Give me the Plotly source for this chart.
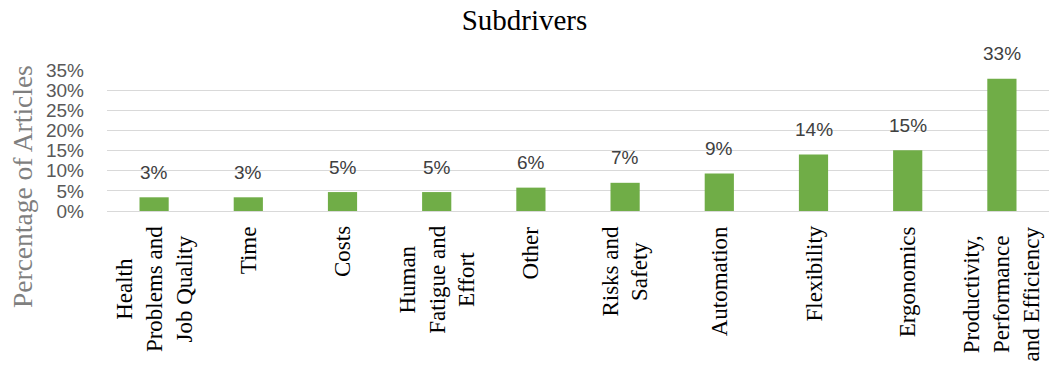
import plotly.graph_objects as go

categories = [
    "Health<br>Problems and<br>Job Quality",
    "Time",
    "Costs",
    "Human<br>Fatigue and<br>Effort",
    "Other",
    "Risks and<br>Safety",
    "Automation",
    "Flexibility",
    "Ergonomics",
    "Productivity,<br>Performance<br>and Efficiency",
]
values = [0.034, 0.034, 0.047, 0.047, 0.058, 0.070, 0.093, 0.140, 0.151, 0.328]
labels = ["3%", "3%", "5%", "5%", "6%", "7%", "9%", "14%", "15%", "33%"]
y_ticks = [0, 0.05, 0.10, 0.15, 0.20, 0.25, 0.30, 0.35]

W, H = 1049, 369
SANS = "Liberation Sans, Arial, sans-serif"
SERIF = "Liberation Serif, Times New Roman, serif"

fig = go.Figure()
fig.add_trace(go.Bar(
    x=categories, y=values,
    marker=dict(color="#70AD47", line=dict(width=0)),
    hoverinfo="skip",
))

# data labels above the bars
for c, v, t in zip(categories, values, labels):
    fig.add_annotation(
        x=c, y=v, xref="x", yref="y", text=t, showarrow=False,
        yanchor="middle", yshift=25,
        font=dict(family=SANS, size=19, color="#404040"),
    )

# rotated category labels (centre-aligned lines)
for c in categories:
    fig.add_annotation(
        x=c, y=0, xref="x", yref="paper", text=c, showarrow=False,
        textangle=-90, align="center", xanchor="center", yanchor="top",
        yshift=-13,
        font=dict(family=SERIF, size=23, color="#000000"),
    )

# y-axis title
fig.add_annotation(
    x=0, y=0.17, xref="paper", yref="paper", xshift=-85,
    text="Percentage of Articles", showarrow=False, textangle=-90,
    xanchor="center", yanchor="middle",
    font=dict(family=SERIF, size=27.5, color="#7F7F7F"),
)

fig.update_layout(
    width=W, height=H,
    margin=dict(l=107, r=0, t=70, b=158),
    paper_bgcolor="white", plot_bgcolor="white",
    bargap=0.69,
    showlegend=False,
    title=dict(
        text="Subdrivers", x=0.5, xanchor="center",
        y=1 - 20 / H, yanchor="middle", yref="container",
        font=dict(family=SERIF, size=29, color="#000000"),
    ),
)
fig.update_xaxes(
    showticklabels=False,
    showgrid=False, showline=False, ticks="",
)
fig.update_yaxes(
    range=[0, 0.35],
    tickvals=y_ticks, tickformat=".0%",
    tickfont=dict(family=SANS, size=19, color="#595959"),
    showgrid=True, gridcolor="#D9D9D9", gridwidth=1.3,
    zeroline=True, zerolinecolor="#D9D9D9", zerolinewidth=1.3,
    showline=False, ticks="",
    ticklabelstandoff=22,
)

fig.write_html("out.html")
